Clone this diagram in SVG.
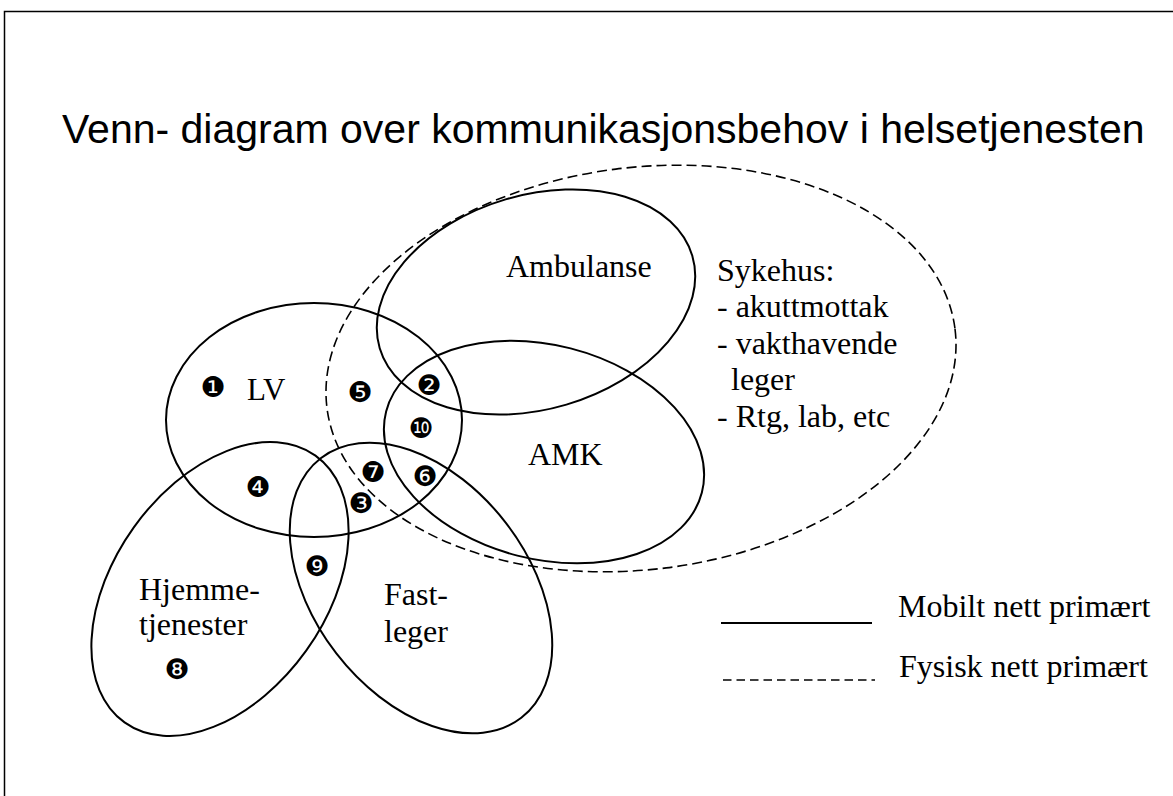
<svg xmlns="http://www.w3.org/2000/svg" width="1173" height="796" viewBox="0 0 1173 796">
<style>
.e{fill:none;stroke:#000;stroke-width:2}
.d{fill:none;stroke:#000;stroke-width:1.6;stroke-dasharray:10 5}
.t{font-family:"Liberation Serif","Times New Roman",serif;font-size:32px;fill:#000}
.n{font-family:"DejaVu Sans",sans-serif;font-size:28px;text-anchor:middle;dominant-baseline:central;fill:#000}
.h{font-family:"Liberation Sans",Arial,sans-serif;font-size:41px;fill:#000}
</style>
<rect width="1173" height="796" fill="#fff"/>
<path d="M4.5,796V11.5H1173" fill="none" stroke="#000" stroke-width="1.5"/>
<text class="h" x="62" y="143">Venn- diagram over kommunikasjonsbehov i helsetjenesten</text>
<g id="sykehus">
<ellipse class="d" cx="641" cy="368.5" rx="316.5" ry="201" transform="rotate(-7.2 641 368.5)"/>
<text class="t" x="717" y="281">Sykehus:</text>
<text class="t" x="717" y="317">- akuttmottak</text>
<text class="t" x="717" y="354">- vakthavende</text>
<text class="t" x="731" y="390">leger</text>
<text class="t" x="717" y="427">- Rtg, lab, etc</text>
</g>
<g id="lv">
<ellipse class="e" cx="314" cy="420" rx="148" ry="117"/>
<text class="t" x="247" y="400" style="font-size:31px">LV</text>
</g>
<g id="ambulanse">
<ellipse class="e" cx="536" cy="302" rx="163" ry="107" transform="rotate(-16.5 536 302)"/>
<text class="t" x="506" y="277">Ambulanse</text>
</g>
<g id="amk">
<ellipse class="e" cx="544" cy="452" rx="163" ry="107" transform="rotate(14.4 544 452)"/>
<text class="t" x="528" y="465">AMK</text>
</g>
<g id="hjemmetjenester">
<ellipse class="e" cx="220" cy="589" rx="164" ry="106" transform="rotate(-54.4 220 589)"/>
<text class="t" x="139" y="600">Hjemme-</text>
<text class="t" x="139" y="635">tjenester</text>
</g>
<g id="fastleger">
<ellipse class="e" cx="421" cy="588" rx="164" ry="107" transform="rotate(52.3 421 588)"/>
<text class="t" x="384" y="605">Fast-</text>
<text class="t" x="384" y="642">leger</text>
</g>
<g id="numbers">
<text class="n" x="213" y="387">❶</text>
<text class="n" x="429" y="385">❷</text>
<text class="n" x="361" y="503">❸</text>
<text class="n" x="258" y="487">❹</text>
<text class="n" x="360" y="392">❺</text>
<text class="n" x="425" y="476">❻</text>
<text class="n" x="373" y="472">❼</text>
<text class="n" x="177" y="669">❽</text>
<text class="n" x="317" y="566">❾</text>
<text class="n" x="421" y="428">❿</text>
</g>
<g id="legend">
<line x1="721" y1="623" x2="872" y2="623" stroke="#000" stroke-width="2"/>
<text class="t" x="898" y="617">Mobilt nett primært</text>
<line x1="723" y1="680" x2="875" y2="680" stroke="#000" stroke-width="1.6" stroke-dasharray="8.5 5"/>
<text class="t" x="899" y="677">Fysisk nett primært</text>
</g>
</svg>
